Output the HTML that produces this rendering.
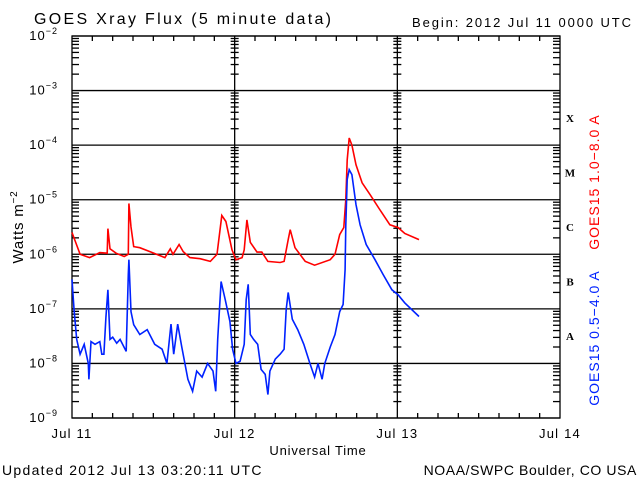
<!DOCTYPE html>
<html><head><meta charset="utf-8"><style>
html,body{margin:0;padding:0;background:#fff;}
svg{display:block;font-family:"Liberation Sans",sans-serif;}
</style></head><body>
<svg id="chart" width="640" height="480" xmlns="http://www.w3.org/2000/svg">
<rect width="640" height="480" fill="#fff"/>
<text x="34" y="24" font-size="16" letter-spacing="2.3">GOES Xray Flux (5 minute data)</text>
<text x="412" y="27" font-size="13" letter-spacing="1.9">Begin:  2012 Jul 11 0000 UTC</text>
<text x="318" y="455" font-size="13" letter-spacing="0.8" text-anchor="middle">Universal Time</text>
<text x="2" y="475" font-size="14" letter-spacing="1.3">Updated 2012 Jul 13 03:20:11 UTC</text>
<text x="637" y="475" font-size="14" letter-spacing="0.6" text-anchor="end">NOAA/SWPC Boulder, CO USA</text>
<text transform="translate(23,227) rotate(-90)" font-size="15" letter-spacing="0.8" text-anchor="middle">Watts m<tspan font-size="10" dy="-6">−2</tspan></text>
<text transform="translate(599,182) rotate(-90)" font-size="14" letter-spacing="1" fill="#ff0000" text-anchor="middle">GOES15 1.0−8.0 A</text>
<text transform="translate(599,338) rotate(-90)" font-size="14" letter-spacing="1" fill="#0022ff" text-anchor="middle">GOES15 0.5−4.0 A</text>
<g id="g"></g>
</svg>
<script>
const xTickLabels = ["Jul 11","Jul 12","Jul 13","Jul 14"];
const yTickExps = [-2,-3,-4,-5,-6,-7,-8,-9];
const classLabels = ["X","M","C","B","A"];
const longHours = [0,1.2,2.6,4.1,5.2,5.3,5.6,6.5,7.7,8.3,8.4,8.7,9.1,10,11.5,13.7,14.5,14.9,15.8,16.4,17.4,18.9,20.4,21.4,22.1,22.7,23.6,24.2,25.1,25.4,25.8,26.3,27.3,28,28.9,30.7,31.3,31.9,32.2,32.9,34.4,35.8,38.1,38.8,39.5,40.1,40.4,40.6,40.9,41.3,41.9,42.8,44,45.4,46.9,48.1,49.1,51.2];
const longLog = [-5.6,-6.0,-6.06,-5.97,-5.98,-5.53,-5.9,-5.98,-6.04,-6.0,-5.07,-5.5,-5.86,-5.88,-5.95,-6.06,-5.9,-6.0,-5.82,-5.95,-6.06,-6.08,-6.13,-6.0,-5.29,-5.4,-5.92,-6.1,-6.06,-5.92,-5.37,-5.78,-5.96,-5.96,-6.13,-6.15,-6.13,-5.73,-5.55,-5.88,-6.13,-6.2,-6.1,-6.0,-5.64,-5.51,-5.0,-4.27,-3.87,-4.0,-4.36,-4.69,-4.91,-5.18,-5.46,-5.51,-5.62,-5.73];
const shortHours = [0,0.3,0.7,1.2,1.8,2.4,2.5,2.8,3.4,4.1,4.4,4.7,5,5.3,5.6,6,6.6,7.1,8,8.3,8.4,8.7,9.1,10,11.1,12.2,13.3,14,14.6,15,15.6,16.2,17.1,17.8,18.4,19.2,20,20.8,21.2,21.5,22,22.6,23.3,23.7,24.2,24.8,25.4,25.7,26,26.3,26.8,27.4,27.9,28.5,28.9,29.2,30,30.7,31.3,31.6,31.9,32.5,33.3,34.2,35.1,35.8,36.3,36.9,37.3,38.1,38.8,39.5,40,40.3,40.4,40.6,40.9,41.3,41.9,42.5,43.4,44.7,45.9,47.2,48.1,49.1,51.2];
const shortLog = [-6.46,-7.0,-7.56,-7.83,-7.65,-8.0,-8.29,-7.6,-7.65,-7.6,-7.83,-7.83,-7.16,-6.65,-7.56,-7.52,-7.63,-7.56,-7.78,-6.37,-6.1,-7.05,-7.29,-7.47,-7.38,-7.65,-7.74,-8.0,-7.28,-7.83,-7.28,-7.7,-8.29,-8.51,-8.14,-8.25,-8.0,-8.14,-8.51,-7.56,-6.5,-6.83,-7.23,-7.74,-8.0,-7.96,-7.65,-6.83,-6.55,-7.47,-7.56,-7.65,-8.11,-8.2,-8.57,-8.14,-7.92,-7.83,-7.74,-7.01,-6.7,-7.19,-7.38,-7.65,-8.0,-8.25,-8.0,-8.29,-8.0,-7.7,-7.47,-7.05,-6.92,-6.28,-5.46,-4.63,-4.45,-4.54,-5.09,-5.46,-5.82,-6.1,-6.37,-6.65,-6.74,-6.89,-7.14];

const L=72,R=560,T=36,B=418;
const xScale=h=>L+(R-L)*h/72;
const yScale=v=>B-(B-T)*(v+9)/7;
const g=document.getElementById('g');
const NS='http://www.w3.org/2000/svg';
function mk(tag,attrs){const e=document.createElementNS(NS,tag);for(const k in attrs)e.setAttribute(k,attrs[k]);g.appendChild(e);return e;}
function line(x1,y1,x2,y2){return mk('line',{x1,y1,x2,y2,stroke:'#000','stroke-width':1.3});}
yTickExps.forEach(ex=>{
  const y=yScale(ex);
  const l=line(L,y,R,y);
  
  
  const t=mk('text',{x:L-14,y:y+4,'font-size':13,'text-anchor':'end','letter-spacing':1});
  
  
  t.textContent='10';
  const s=document.createElementNS(NS,'tspan');s.setAttribute('font-size','9');s.setAttribute('dy','-6');s.textContent='−'+(-ex);t.appendChild(s);
});
const fr=mk('rect',{x:L,y:T,width:R-L,height:B-T,fill:'none',stroke:'#000','stroke-width':1.3});


[1,2].forEach(d=>{const x=xScale(d*24);const l=line(x,T,x,B);});
[L,xScale(24),xScale(48),R].forEach((x,i)=>{
  for(let ex=-9;ex<-2;ex++){for(let m=2;m<=9;m++){const y=yScale(ex+Math.log10(m));
    if(i===0)line(L,y,L+7,y);else if(i===3)line(R-7,y,R,y);else line(x-4,y,x+4,y);}}
});
for(let h=3;h<72;h+=3){if(h%24===0)continue;const x=xScale(h);line(x,T,x,T+5);line(x,B-5,x,B);}
xTickLabels.forEach((lab,i)=>{const t=mk('text',{x:xScale(i*24),y:438,'font-size':13,'text-anchor':'middle','letter-spacing':1.2});
  
  
  t.textContent=lab;});
classLabels.forEach((c,i)=>{const t=mk('text',{x:570,y:yScale(-3.5-i)+4,'font-size':11,'font-weight':'bold','font-family':'Liberation Serif,serif','text-anchor':'middle'});
  
  
  t.textContent=c;});
function series(hs,vs,col,name){
  const d=hs.map((h,i)=>(i?'L':'M')+xScale(h).toFixed(1)+','+yScale(vs[i]).toFixed(1)).join('');
  const p=mk('path',{d,fill:'none',stroke:col,'stroke-width':1.6});
  
  
}
series(longHours,longLog,'#ff0000','series-long-wavelength');
series(shortHours,shortLog,'#0022ff','series-short-wavelength');
</script>
</body></html>
